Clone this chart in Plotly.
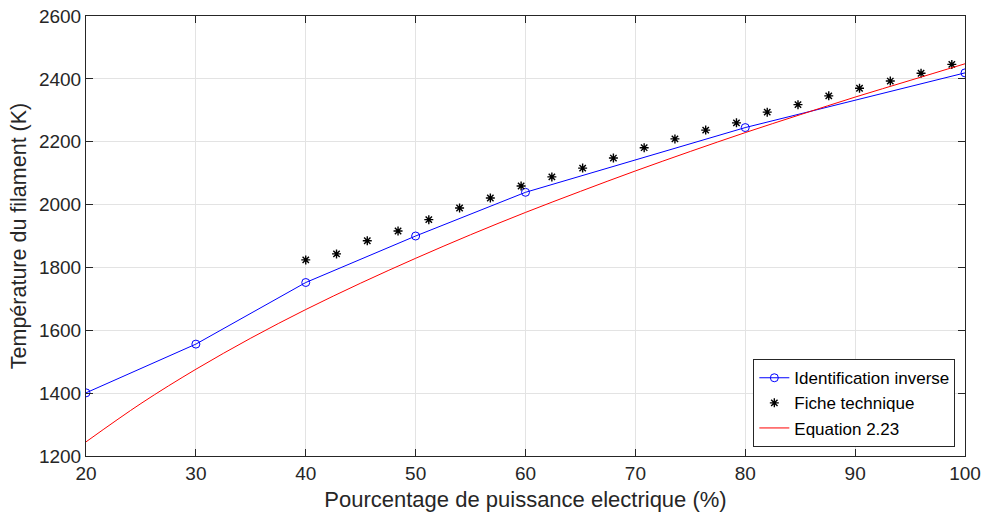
import plotly.graph_objects as go

# Identification inverse
ident_x = [20, 30, 40, 50, 60, 80, 100]
ident_y = [1401, 1556, 1752, 1900, 2039, 2245, 2419]

# Fiche technique
fiche_x = [40.0, 42.8, 45.6, 48.4, 51.2, 54.0, 56.8, 59.6, 62.4, 65.2, 68.0,
           70.8, 73.6, 76.4, 79.2, 82.0, 84.8, 87.6, 90.4, 93.2, 96.0, 98.8]
fiche_y = [1824, 1843, 1885, 1916, 1952, 1989, 2021, 2059, 2088, 2116, 2148,
           2181, 2209, 2237, 2260, 2294, 2318, 2346, 2370, 2393, 2418, 2446]

# Equation 2.23
eq_x = [20, 25, 30, 35, 40, 45, 50, 55, 60, 65, 70, 75, 80, 85, 90, 95, 100]
eq_y = [1245, 1367, 1476, 1575, 1666, 1750, 1829, 1904, 1975, 2042, 2107,
        2169, 2229, 2286, 2342, 2395, 2448]

x_ticks = [20, 30, 40, 50, 60, 70, 80, 90, 100]
y_ticks = [1200, 1400, 1600, 1800, 2000, 2200, 2400, 2600]

FONT = "Liberation Sans, Arial, sans-serif"

fig = go.Figure()
fig.add_trace(go.Scatter(
    x=ident_x, y=ident_y, mode="lines+markers", name="Identification inverse",
    line=dict(color="#0000ff", width=1),
    marker=dict(symbol="circle-open", size=8, color="#0000ff", line=dict(width=1)),
))
fig.add_trace(go.Scatter(
    x=fiche_x, y=fiche_y, mode="markers", name="Fiche technique",
    marker=dict(symbol="asterisk-open", size=7.5, color="black", line=dict(width=1.4, color="black")),
))
fig.add_trace(go.Scatter(
    x=eq_x, y=eq_y, mode="lines", name="Equation 2.23", line_shape="spline",
    line=dict(color="#ff0000", width=1),
))

axis_common = dict(
    showline=True, linecolor="#262626", linewidth=1, mirror="ticks",
    ticks="inside", ticklen=7, tickcolor="#262626",
    showgrid=True, gridcolor="#e3e3e3", gridwidth=1, zeroline=False,
    tickfont=dict(family=FONT, size=19, color="#262626"),
    automargin=False, ticklabeloverflow="allow",
)

fig.update_layout(
    width=982, height=514,
    margin=dict(l=86, r=17, t=16, b=58),
    paper_bgcolor="white", plot_bgcolor="white",
    font=dict(family=FONT, color="#262626"),
    xaxis=dict(range=[20, 100], tickvals=x_ticks,
               title=dict(text="Pourcentage de puissance electrique (%)", font=dict(size=22), standoff=8),
               **axis_common),
    yaxis=dict(range=[1200, 2600], tickvals=y_ticks,
               title=dict(text="Température du filament (K)", font=dict(size=21.5), standoff=6),
               **axis_common),
    legend=dict(x=0.989, y=0.02, xanchor="right", yanchor="bottom",
                bgcolor="white", bordercolor="#262626", borderwidth=1,
                font=dict(family=FONT, size=17, color="black"),
                tracegroupgap=0, itemwidth=30),
    showlegend=True,
)

# Remove the browser's default body margin so the figure sits at the page origin.
fig.write_html("out.html", config={"displayModeBar": False},
               post_script="document.body.style.margin='0';")
